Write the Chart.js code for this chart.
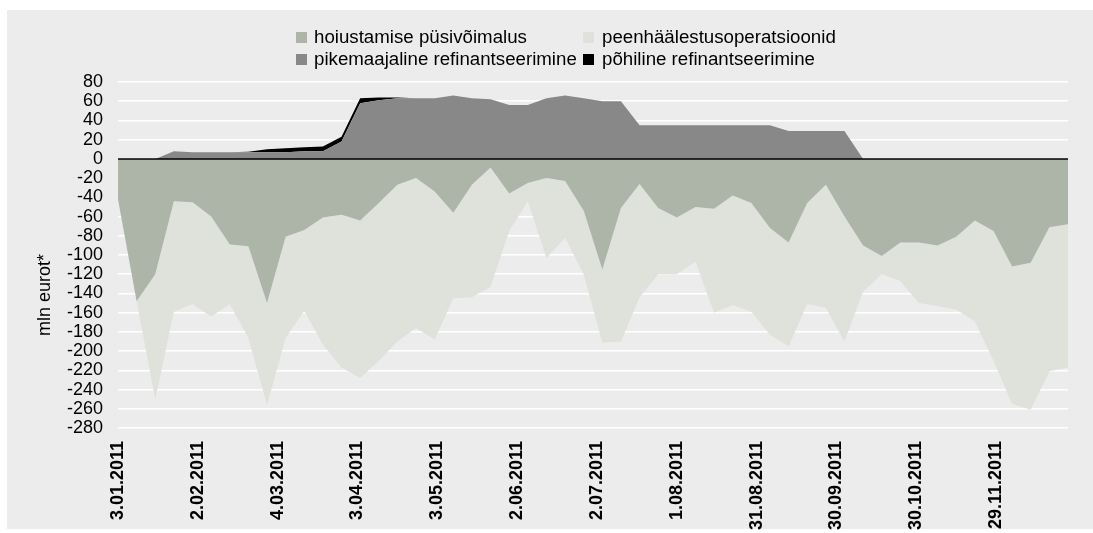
<!DOCTYPE html>
<html>
<head>
<meta charset="utf-8">
<title>Eesti Pank - likviidsus</title>
<script src="https://cdn.jsdelivr.net/npm/chart.js@4.4.1/dist/chart.umd.min.js"></script>
<style>
    body { margin: 0; background: #fff; }
    #zone { position: absolute; left: 0; top: 0; width: 1093px; height: 533px; }
    .legende { position: absolute; font: 18.7px 'Liberation Sans', Arial, sans-serif; color: #000; line-height: 22px; white-space: nowrap; }
    .legende .boite { position: absolute; left: 0; top: 5.5px; width: 11px; height: 11px; }
    .legende .texte { position: absolute; top: 0; }
</style>
</head>
<body>
<div id="zone">
    <canvas id="graphe" width="1093" height="533"></canvas>
    <div id="legende"></div>
</div>
<script>
// Nädalad (esmaspäevad)
var kuupaevad = [
    '3.01.2011', '10.01.2011', '17.01.2011', '24.01.2011', '31.01.2011',
    '7.02.2011', '14.02.2011', '21.02.2011', '28.02.2011',
    '7.03.2011', '14.03.2011', '21.03.2011', '28.03.2011',
    '4.04.2011', '11.04.2011', '18.04.2011', '25.04.2011',
    '2.05.2011', '9.05.2011', '16.05.2011', '23.05.2011', '30.05.2011',
    '6.06.2011', '13.06.2011', '20.06.2011', '27.06.2011',
    '4.07.2011', '11.07.2011', '18.07.2011', '25.07.2011',
    '1.08.2011', '8.08.2011', '15.08.2011', '22.08.2011', '29.08.2011',
    '5.09.2011', '12.09.2011', '19.09.2011', '26.09.2011',
    '3.10.2011', '10.10.2011', '17.10.2011', '24.10.2011', '31.10.2011',
    '7.11.2011', '14.11.2011', '21.11.2011', '28.11.2011',
    '5.12.2011', '12.12.2011', '19.12.2011', '26.12.2011'
]

// Seeriad (mln eurot)
var hoiustamine = [-42, -148, -120, -44, -45, -60, -89, -91, -150, -81,
    -74, -61, -58, -64, -46, -27, -20, -34, -56, -27,
    -9, -36, -25, -20, -23, -54, -115, -51, -26, -51,
    -61, -50, -52, -38, -46, -72, -87, -46, -27, -60,
    -90, -101, -87, -87, -90, -81, -64, -75, -112, -108,
    -71, -68]
var peenhaalestus = [0, 0, -130, -115, -106, -104, -62, -95, -106, -105,
    -84, -132, -159, -164, -164, -163, -156, -154, -89, -117,
    -124, -39, -19, -83, -59, -66, -76, -139, -118, -69,
    -59, -57, -108, -114, -113, -111, -108, -105, -128, -130,
    -48, -19, -40, -63, -63, -76, -105, -135, -143, -153,
    -150, -149]
var pikemaajaline = [0, 0, 0, 8, 7, 7, 7, 7, 7, 7,
    8, 8, 18, 58, 61, 63, 63, 63, 66, 63,
    62, 56, 56, 63, 66, 63, 60, 60, 35, 35,
    35, 35, 35, 35, 35, 35, 29, 29, 29, 29,
    0, 0, 0, 0, 0, 0, 0, 0, 0, 0,
    0, 0]
var pohiline = [0, 0, 0, 0, 0, 0, 0, 0.5, 3, 4,
    4, 5, 5, 5, 3, 1, 0, 0, 0, 0,
    0, 0, 0, 0, 0, 0, 0, 0, 0, 0,
    0, 0, 0, 0, 0, 0, 0, 0, 0, 0,
    0, 0, 0, 0, 0, 0, 0, 0, 0, 0,
    0, 0]

var seeriaNimed = ['hoiustamise püsivõimalus', 'peenhäälestusoperatsioonid',
    'pikemaajaline refinantseerimine', 'põhiline refinantseerimine']
var seeriaVarvid = ['#adb5a9', '#dfe1db', '#888888', '#000000']

// Telje samm päevades
var telgSamm = 30

// Kuupäev -> päevi alates esimesest
function paevNumber(s) {
    var osad = s.split('.')
    return Date.UTC(+osad[2], +osad[1] - 1, +osad[0]) / 86400000
}
var algus = paevNumber(kuupaevad[0])
var paevad = kuupaevad.map(function (k) { return paevNumber(k) - algus })

function vormindaKuupaev(v) {
    var d = new Date((algus + v) * 86400000)
    var kuu = d.getUTCMonth() + 1
    return d.getUTCDate() + '.' + (kuu < 10 ? '0' + kuu : kuu) + '.' + d.getUTCFullYear()
}

function punktid(vaartused) {
    return vaartused.map(function (v, i) { return { x: paevad[i], y: v } })
}

var seeriad = [hoiustamine, peenhaalestus, pikemaajaline, pohiline]
var taidised = ['origin', '-1', 'origin', '-1']
var virnad = ['neg', 'neg', 'pos', 'pos']

var andmed = {
    datasets: seeriad.map(function (s, i) {
        return {
            label: seeriaNimed[i],
            data: punktid(s),
            backgroundColor: seeriaVarvid[i],
            borderWidth: 0,
            pointRadius: 0,
            fill: taidised[i],
            stack: virnad[i],
            tension: 0
        }
    })
}

// Hall taust, nulljoon ja y-telje pealkiri
var taustPlugin = {
    id: 'taust',
    beforeDraw: function (chart) {
        var ctx = chart.ctx
        ctx.save()
        ctx.fillStyle = '#ececec'
        ctx.fillRect(7, 10, 1086, 519)
        ctx.restore()
    },
    afterDatasetsDraw: function (chart) {
        var ctx = chart.ctx
        var y0 = chart.scales.y.getPixelForValue(0)
        ctx.save()
        ctx.strokeStyle = '#000'
        ctx.lineWidth = 1.5
        ctx.beginPath()
        ctx.moveTo(chart.chartArea.left, y0)
        ctx.lineTo(chart.chartArea.right, y0)
        ctx.stroke()
        ctx.restore()
    },
    afterDraw: function (chart) {
        var ctx = chart.ctx
        ctx.save()
        ctx.translate(45, 295)
        ctx.rotate(-Math.PI / 2)
        ctx.font = "18px 'Liberation Sans', Arial, sans-serif"
        ctx.fillStyle = '#000'
        ctx.textAlign = 'center'
        ctx.textBaseline = 'middle'
        ctx.fillText('mln eurot*', 0, 0)
        ctx.restore()
    }
}

const config = {
    type: 'line',
    data: andmed,
    options: {
        responsive: false,
        animation: false,
        layout: { padding: { left: 0, top: 82, right: 25, bottom: 0 } },
        plugins: {
            legend: { display: false },
            tooltip: { enabled: false }
        },
        scales: {
            x: {
                type: 'linear',
                min: 0,
                max: paevad[paevad.length - 1],
                grid: { display: false, drawTicks: false },
                border: { display: false },
                ticks: {
                    stepSize: telgSamm,
                    includeBounds: false,
                    autoSkip: false,
                    minRotation: 90,
                    maxRotation: 90,
                    padding: 13,
                    color: '#000',
                    font: { size: 18, weight: 'bold' },
                    callback: function (v) { return vormindaKuupaev(v) }
                },
                afterFit: function (s) { s.height = 105 }
            },
            y: {
                stacked: true,
                min: -280,
                max: 80,
                grid: { color: '#ffffff', lineWidth: 1.5, drawTicks: false },
                border: { display: false },
                ticks: {
                    stepSize: 20,
                    autoSkip: false,
                    padding: 15,
                    color: '#000',
                    font: { size: 18 }
                },
                afterFit: function (s) { s.width = 118 }
            }
        }
    },
    plugins: [taustPlugin]
}

window.onload = function () {
    Chart.defaults.font.family = "'Liberation Sans', Arial, sans-serif"
    var ctx = document.getElementById('graphe').getContext('2d')
    var graafik = new Chart(ctx, config)

    // Legend kahes veerus
    var veerud = [296, 583]
    var read = [26, 48]
    var legende = document.getElementById('legende')
    graafik.data.datasets.forEach(function (ds, i) {
        var el = document.createElement('div')
        el.className = 'legende'
        el.style.left = veerud[i % 2] + 'px'
        el.style.top = read[Math.floor(i / 2)] + 'px'
        el.innerHTML = '<span class="boite" style="background:' + ds.backgroundColor + '"></span>' +
            '<span class="texte" style="left:' + (i % 2 ? 19 : 18) + 'px">' + ds.label + '</span>'
        legende.appendChild(el)
    })
}
</script>
</body>
</html>
